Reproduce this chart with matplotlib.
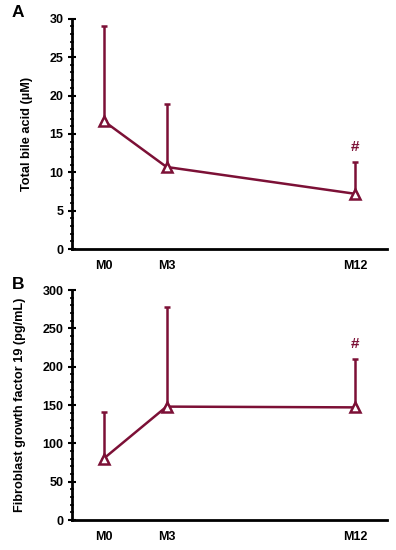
import matplotlib
matplotlib.use("Agg")
import matplotlib.pyplot as plt
from matplotlib.ticker import MultipleLocator

plt.rcParams['font.family'] = ['Liberation Sans', 'DejaVu Sans']
plt.rcParams['font.weight'] = 'bold'

months = [0, 3, 12]
labels = ['M0', 'M3', 'M12']

# panel A: total bile acid (uM)
tba_mean = [16.7, 10.7, 7.2]
tba_err = [12.4, 8.2, 4.1]

# panel B: FGF19 (pg/mL)
fgf_mean = [80, 148, 147]
fgf_err = [61, 130, 63]

color = '#7c1036'

fig = plt.figure(figsize=(3.96, 5.5), dpi=100)
ax_a = fig.add_axes([0.182, 0.547, 0.795, 0.419])
ax_b = fig.add_axes([0.182, 0.0545, 0.795, 0.418])

panels = [
    (ax_a, tba_mean, tba_err, 30, 5, 1, 'Total bile acid (µM)', 'A'),
    (ax_b, fgf_mean, fgf_err, 300, 50, 10, 'Fibroblast growth factor 19 (pg/mL)', 'B'),
]

for ax, mean, err, ymax, major, minor, ylabel, tag in panels:
    ax.errorbar(months, mean, yerr=[[0] * len(err), err], color=color,
                lw=1.8, elinewidth=1.8, capsize=2.5, capthick=1.8,
                marker='^', ms=6.5, mfc='white', mec=color, mew=1.8, zorder=3)
    ax.set_xlim(-1.5, 13.5)
    ax.set_ylim(0, ymax)
    ax.yaxis.set_major_locator(MultipleLocator(major))
    ax.yaxis.set_minor_locator(MultipleLocator(minor))
    ax.set_xticks(months)
    ax.set_xticklabels(labels)
    ax.spines['top'].set_visible(False)
    ax.spines['right'].set_visible(False)
    ax.spines['left'].set_linewidth(2)
    ax.spines['bottom'].set_linewidth(2)
    ax.tick_params(axis='y', which='major', direction='inout', length=6, width=1.5,
                   labelsize=9, pad=3)
    ax.tick_params(axis='y', which='minor', direction='inout', length=3, width=1.2)
    ax.tick_params(axis='x', length=0, labelsize=9, pad=8)
    ax.set_ylabel(ylabel, fontsize=9.2, fontweight='bold', labelpad=12)
    ax.text(-0.172, 1.025, tag, transform=ax.transAxes, fontsize=12.5,
            fontweight='bold', ha='center', va='center')
    # significance mark above M12
    ax.text(months[2], mean[2] + err[2] + ymax * 0.065, '#', color=color,
            fontsize=11, fontweight='bold', ha='center', va='center')

fig.savefig('out.png', dpi=100)
